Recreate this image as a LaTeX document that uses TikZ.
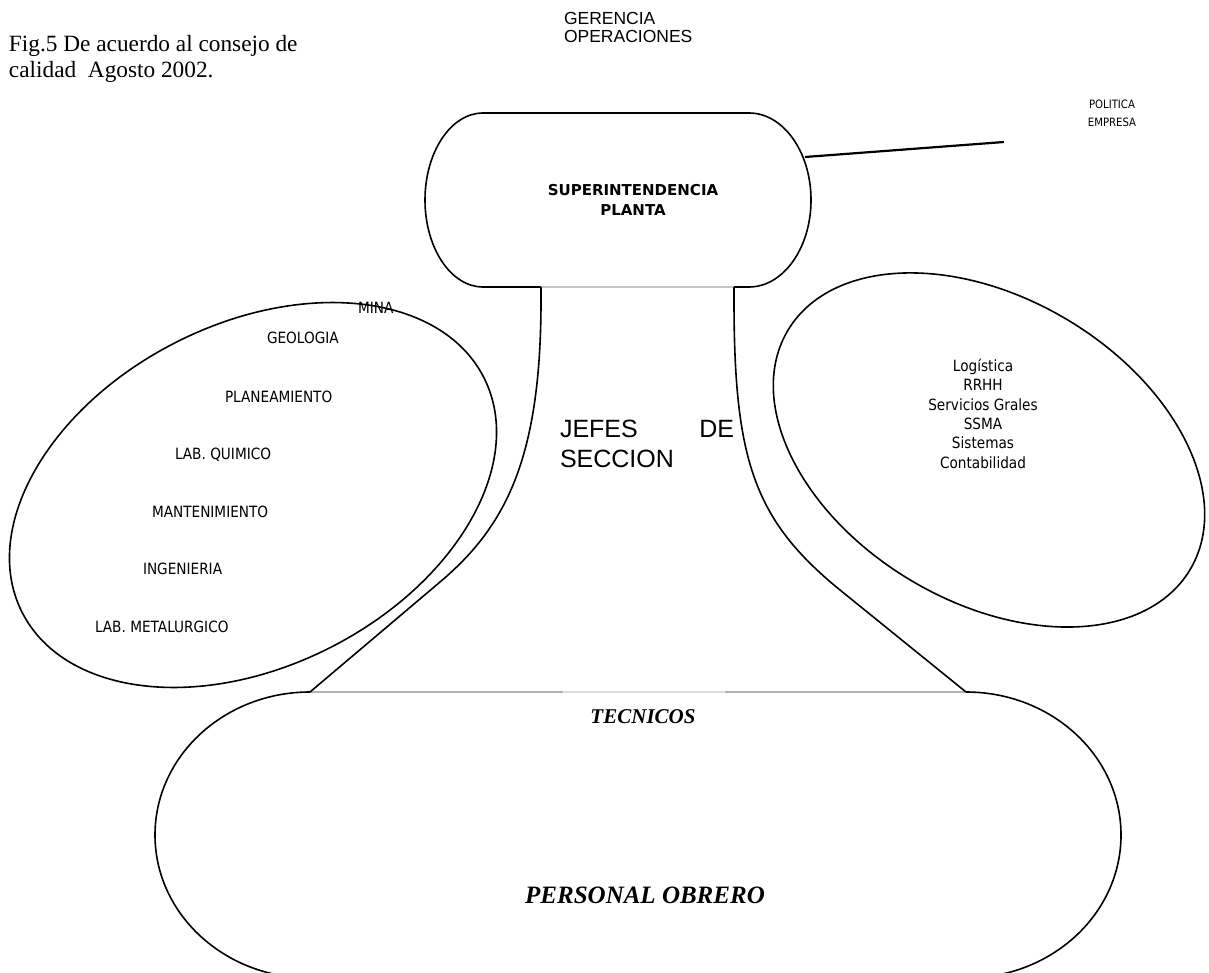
\documentclass[tikz,border=0pt]{standalone}
\usepackage{fontspec}
\setmainfont{Liberation Serif}
\newfontfamily\arialf{Liberation Sans}
\newfontfamily\tahomaf[FakeStretch=0.88]{DejaVu Sans}
\newfontfamily\tahomabf{DejaVu Sans Bold}
\begin{document}
\begin{tikzpicture}[x=1pt,y=-1pt,
  shapeline/.style={line width=1.6pt,black},
  seam/.style={line width=1.2pt,gray!45},
  lbl/.style={inner sep=0pt,outer sep=0pt},
  smalllbl/.style={lbl,font=\tahomaf\fontsize{15.5}{19.3}\selectfont},
]
\useasboundingbox (0,0) rectangle (1209,973);
\clip (0,0) rectangle (1209,973);

% ---- top shape: SUPERINTENDENCIA PLANTA
\coordinate (tTL) at (483,113);
\coordinate (tTR) at (749,113);
\coordinate (tBL) at (483,287);
\coordinate (tBR) at (749,287);
\coordinate (sL) at (541,287);
\coordinate (sR) at (734,287);
\draw[shapeline] (tBR) -- (sR);
\draw[shapeline] (sL) -- (tBL) arc[start angle=90,end angle=270,x radius=58,y radius=87]
  -- (tTR) arc[start angle=-90,end angle=90,x radius=62,y radius=87];
\draw[seam] (sL) -- (sR);

% ---- bottom shape: TECNICOS / PERSONAL OBRERO
\coordinate (bL) at (310,692);
\coordinate (bR) at (966,692);
\coordinate (bM1) at (563,692);
\coordinate (bM2) at (725,692);
\draw[shapeline] (bL) arc[start angle=-90,end angle=-270,x radius=155,y radius=143]
  -- ++(656,0) arc[start angle=90,end angle=-90,x radius=155,y radius=143];
\draw[line width=1.2pt,gray!60] (bL) -- (bM1);
\draw[line width=1.2pt,gray!25] (bM1) -- (bM2);
\draw[line width=1.2pt,gray!60] (bM2) -- (bR);

% ---- stems
\coordinate (lk) at (440,582);
\coordinate (rk) at (840,590);
\draw[shapeline] (sL) -- (541,300) .. controls (541,460) and (505,527) .. (lk) -- (bL);
\draw[shapeline] (sR) -- (734,300) .. controls (734,460) and (754,520) .. (rk) -- (bR);

% ---- left ellipse
\coordinate (lc) at (253,495);
\draw[shapeline,rotate around={27:(lc)}] (lc) ellipse[x radius=259,y radius=171];

% ---- right ellipse
\coordinate (rc) at (989,450);
\draw[shapeline,rotate around={-30.7:(rc)}] (rc) ellipse[x radius=234,y radius=152];

% ---- politica connector
\coordinate (pA) at (805,157);
\coordinate (pB) at (1004,142);
\draw[line width=2.2pt] (pA) -- (pB);

% ---- texts (base anchor = baseline of last line)
\node[lbl,anchor=base west,align=left,font=\fontsize{23.3}{26}\selectfont] (fig) at (9,78)
  {Fig.5 De acuerdo al consejo de\\calidad\ \ Agosto 2002.};
\node[lbl,anchor=base west,align=left,font=\arialf\fontsize{17.5}{18.5}\selectfont] (ger) at (564,43)
  {GERENCIA\\OPERACIONES};
\node[lbl,anchor=base,align=center,font=\tahomaf\fontsize{11.5}{18}\selectfont] (pol) at (1112,127)
  {POLITICA\\EMPRESA};
\node[lbl,anchor=base,align=center,font=\tahomabf\fontsize{15}{20}\selectfont] (sup) at (633,216)
  {SUPERINTENDENCIA\\PLANTA};

\node[smalllbl,anchor=base west] (mina) at (358,313) {MINA};
\node[smalllbl,anchor=base west] (geo) at (267,343) {GEOLOGIA};
\node[smalllbl,anchor=base west] (plan) at (225,402) {PLANEAMIENTO};
\node[smalllbl,anchor=base west] (labq) at (175,459) {LAB. QUIMICO};
\node[smalllbl,anchor=base west] (mant) at (152,517) {MANTENIMIENTO};
\node[smalllbl,anchor=base west] (ing) at (143,574) {INGENIERIA};
\node[smalllbl,anchor=base west] (labm) at (95,632) {LAB. METALURGICO};

\node[smalllbl,anchor=base,align=center] (serv) at (983,468)
  {Logística\\RRHH\\Servicios Grales\\SSMA\\Sistemas\\Contabilidad};

\node[lbl,anchor=base west,text width=174pt,align=left,font=\arialf\fontsize{25}{30}\selectfont] (jefes) at (560,437)
  {JEFES\hfill DE\\SECCION};

\node[lbl,anchor=base,font=\bfseries\itshape\fontsize{21}{24}\selectfont] (tec) at (643,723) {TECNICOS};
\node[lbl,anchor=base,font=\bfseries\itshape\fontsize{25}{28}\selectfont] (obr) at (645,903) {PERSONAL OBRERO};
\end{tikzpicture}
\end{document}
